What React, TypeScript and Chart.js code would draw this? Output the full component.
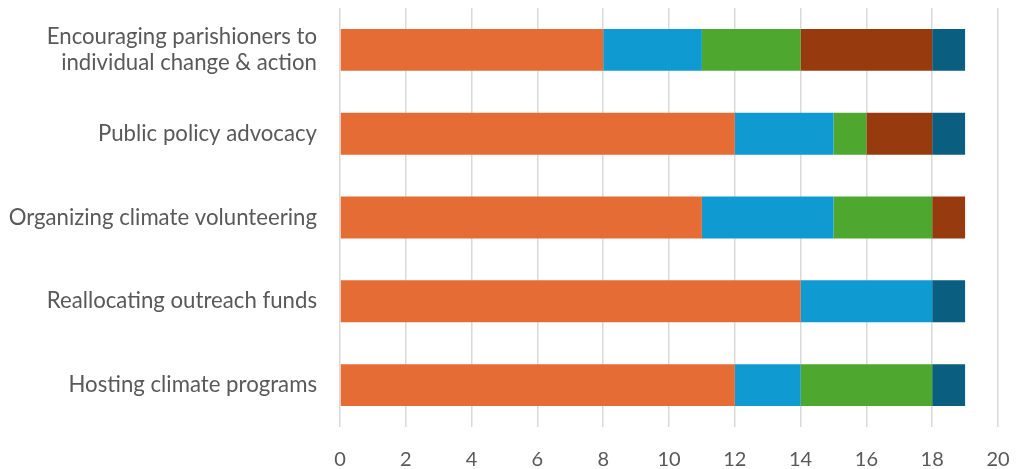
import React, { useEffect, useRef } from "react";
import { Chart, registerables } from "chart.js";

Chart.register(...registerables);

const categories: (string | string[])[] = [
  ["Encouraging parishioners to", "individual change & action"],
  "Public policy advocacy",
  "Organizing climate volunteering",
  "Reallocating outreach funds",
  "Hosting climate programs",
];

const series1 = [8, 12, 11, 14, 12];
const series2 = [3, 3, 4, 4, 2];
const series3 = [3, 1, 3, 0, 4];
const series4 = [4, 2, 1, 0, 0];
const series5 = [1, 1, 0, 1, 1];

const seriesNames = ["Series 1", "Series 2", "Series 3", "Series 4", "Series 5"];
const seriesColors = ["#E56D35", "#0F9BD2", "#4EA72E", "#973B0F", "#0A5E7F"];

export default function App() {
  const ref = useRef<HTMLCanvasElement | null>(null);
  useEffect(() => {
    if (!ref.current) return;
    const data = [series1, series2, series3, series4, series5];
    const chart = new Chart(ref.current, {
      type: "bar",
      data: {
        labels: categories,
        datasets: data.map((d, i) => ({
          label: seriesNames[i],
          data: d,
          backgroundColor: seriesColors[i],
          borderWidth: 0,
          categoryPercentage: 1,
          barPercentage: 0.5,
        })),
      },
      options: {
        indexAxis: "y",
        responsive: false,
        animation: false,
        maintainAspectRatio: false,
        layout: { padding: { top: 8, right: 20, left: 0, bottom: 0 } },
        plugins: {
          legend: { display: false },
          tooltip: { enabled: false },
        },
        scales: {
          x: {
            stacked: true,
            min: 0,
            max: 20,
            ticks: {
              stepSize: 2,
              color: "#595959",
              font: { family: "Lato", size: 20 },
              padding: 21,
            },
            grid: { color: "#d9d9d9", lineWidth: 1.5, drawTicks: false },
            border: { display: false },
            afterFit: (scale: any) => {
              scale.height = 42;
              scale.paddingRight = 0;
              scale.paddingLeft = 0;
            },
          },
          y: {
            stacked: true,
            ticks: {
              color: "#595959",
              font: { family: "Lato", size: 22.2, lineHeight: 1.18 },
              padding: 23,
            },
            grid: { display: false, drawTicks: false },
            border: { display: false },
            afterFit: (scale: any) => {
              scale.width = 340;
              scale.paddingTop = 0;
              scale.paddingBottom = 0;
            },
          },
        },
      },
    });
    return () => chart.destroy();
  }, []);
  return (
    <div style={{ position: "fixed", left: 0, top: 0, width: 1018, height: 469, background: "#fff" }}>
      <canvas ref={ref} width={1018} height={469} />
    </div>
  );
}
